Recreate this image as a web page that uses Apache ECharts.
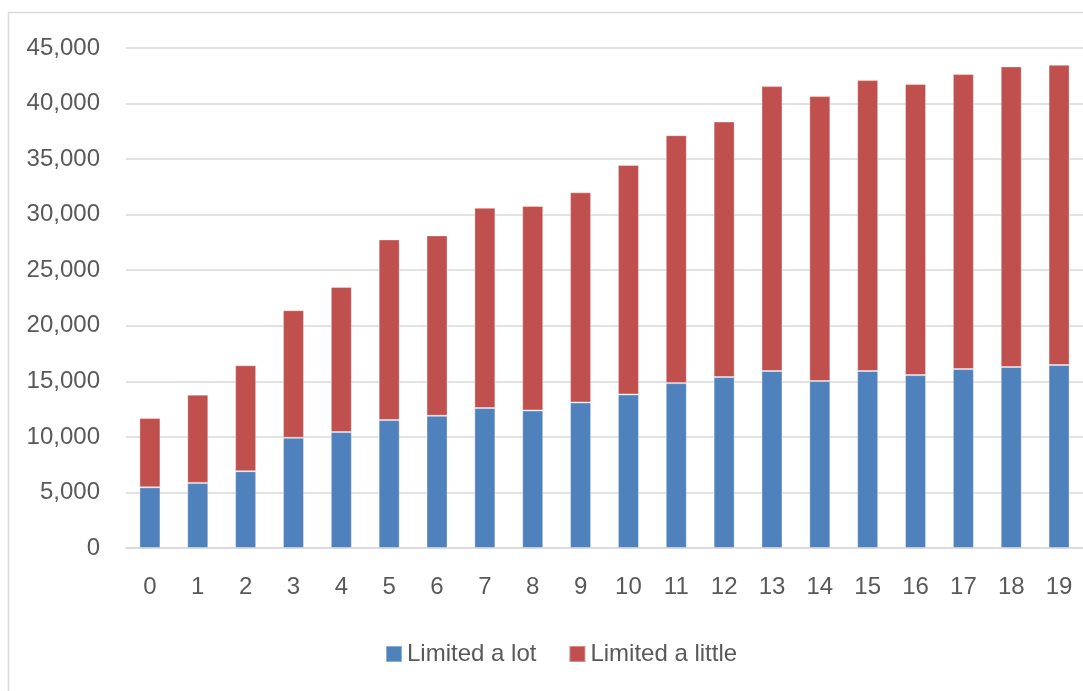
<!DOCTYPE html>
<html>
<head>
<meta charset="utf-8">
<script src="https://cdn.jsdelivr.net/npm/echarts@6/dist/echarts.min.js"></script>
<style>
  html, body { margin: 0; padding: 0; background: #ffffff; }
  #chart { width: 1083px; height: 691px; }
</style>
</head>
<body>
<div id="chart"></div>
<script>
// Categories along the x axis
const categories = ['0','1','2','3','4','5','6','7','8','9','10','11','12','13','14','15','16','17','18','19'];

// Series names
const seriesNames = ['Limited a lot', 'Limited a little'];

// Stacked values per category
const limitedALot = [5460, 5860, 6910, 9920, 10430, 11510, 11900, 12590, 12380, 13100,
                     13820, 14840, 15380, 15930, 15020, 15930, 15560, 16100, 16290, 16470];
const limitedALittle = [6230, 7940, 9530, 11480, 13070, 16260, 16230, 18030, 18400, 18910,
                        20650, 22310, 23000, 25640, 25650, 26180, 26190, 26550, 27050, 27020];

// Value axis range
const yMin = 0;
const yMax = 45000;
const yStep = 5000;

const textColor = '#595959';
const gridColor = '#d9d9d9';
const fontFamily = '"Liberation Sans", "DejaVu Sans", sans-serif';

const chart = echarts.init(document.getElementById('chart'), null, { renderer: 'canvas' });

chart.setOption({
  backgroundColor: '#ffffff',
  animation: false,
  textStyle: { fontFamily: fontFamily },
  graphic: [{
    type: 'rect',
    shape: { x: 8.5, y: 12.5, width: 1200, height: 1000 },
    style: { fill: 'none', stroke: gridColor, lineWidth: 1.5 },
    silent: true,
    z: -1
  }],
  grid: { left: 126, right: 0, top: 48, bottom: 143, containLabel: false },
  legend: {
    data: seriesNames,
    left: 380,
    top: 637,
    itemWidth: 16,
    itemHeight: 16,
    itemGap: 32,
    icon: 'rect',
    textStyle: { color: textColor, fontSize: 24, fontFamily: fontFamily }
  },
  xAxis: {
    type: 'category',
    data: categories,
    axisLine: { show: true, lineStyle: { color: gridColor, width: 1.5 } },
    axisTick: { show: false },
    axisLabel: { color: textColor, fontSize: 24, margin: 27, fontFamily: fontFamily }
  },
  yAxis: {
    type: 'value',
    min: yMin,
    max: yMax,
    interval: yStep,
    axisLine: { show: false },
    axisTick: { show: false },
    splitLine: { lineStyle: { color: gridColor, width: 1.5 } },
    axisLabel: {
      color: textColor,
      fontSize: 24,
      margin: 26,
      fontFamily: fontFamily,
      formatter: v => v.toLocaleString('en-US')
    }
  },
  series: [
    {
      name: seriesNames[0],
      type: 'bar',
      stack: 'total',
      data: limitedALot,
      barWidth: 21,
      itemStyle: { color: '#4F81BD', borderColor: 'rgba(255,255,255,0.35)', borderWidth: 1 }
    },
    {
      name: seriesNames[1],
      type: 'bar',
      stack: 'total',
      data: limitedALittle,
      barWidth: 21,
      itemStyle: { color: '#C0504D', borderColor: 'rgba(255,255,255,0.35)', borderWidth: 1 }
    }
  ]
});
</script>
</body>
</html>
